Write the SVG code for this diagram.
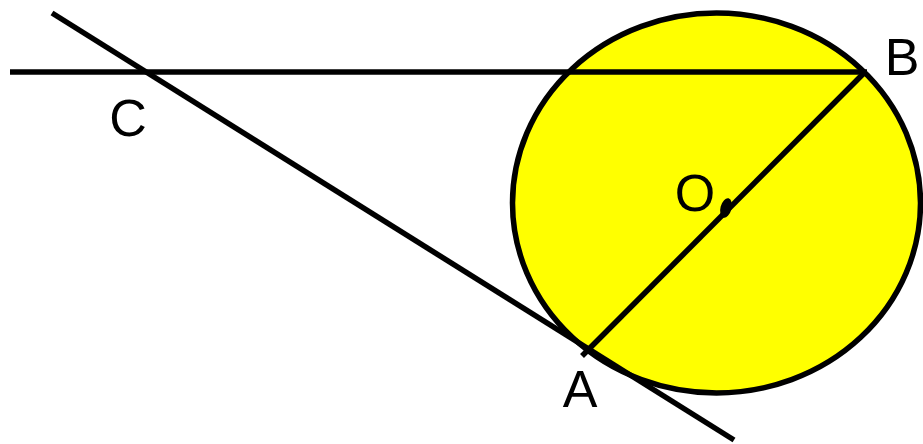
<svg xmlns="http://www.w3.org/2000/svg" width="923" height="444" viewBox="0 0 923 444">
<style>
.ln{stroke:#000;stroke-width:5.5;fill:none;stroke-linecap:butt}
.lb{font-family:"Liberation Sans",Arial,sans-serif;font-size:52px;fill:#000;text-anchor:middle}
</style>
<rect width="923" height="444" fill="#fff"/>
<g id="circle">
<ellipse cx="716.5" cy="203" rx="204" ry="190" fill="#ffff00" stroke="#000" stroke-width="5.5"/>
</g>
<g id="connectors">
<line class="ln" x1="10" y1="72" x2="867" y2="72"/>
<line class="ln" x1="52" y1="13" x2="734" y2="440"/>
<line class="ln" x1="866" y1="71" x2="582" y2="356"/>
</g>
<g id="O">
<ellipse cx="726" cy="208" rx="5.5" ry="10" transform="rotate(15 726 208)" fill="#000"/>
<text class="lb" x="695" y="211">O</text>
</g>
<g id="B"><text class="lb" x="902" y="75">B</text></g>
<g id="C"><text class="lb" x="128" y="136">C</text></g>
<g id="A"><text class="lb" x="580" y="407">A</text></g>
</svg>
